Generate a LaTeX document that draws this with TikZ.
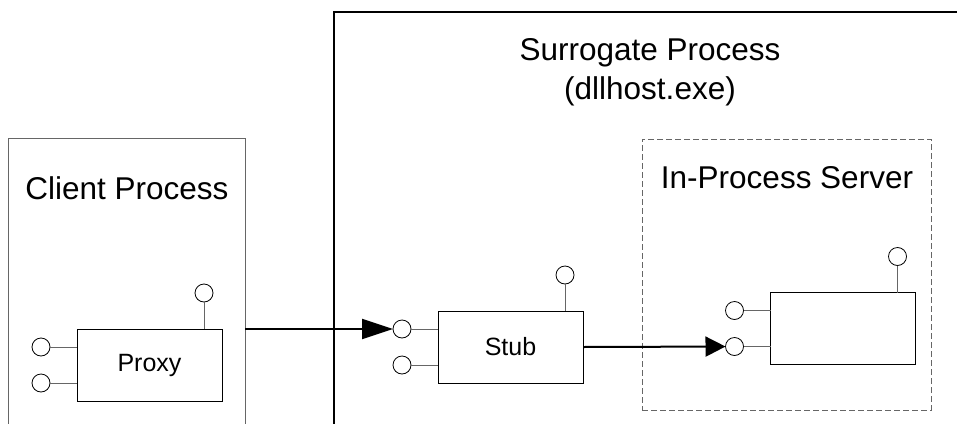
\documentclass[tikz,border=0pt]{standalone}
\usepackage{fontspec}
\setmainfont{Liberation Sans}
\usetikzlibrary{calc,positioning,arrows.meta}
\tikzset{
    frame/.style={draw,inner sep=0pt,outer sep=0pt},
    component/.style={
        draw,line width=.9pt,fill=white,
        inner sep=0pt,outer sep=0pt,
        minimum width=145pt,minimum height=72pt,
        font=\fontsize{25}{30}\selectfont
    },
    port/.style={draw,circle,line width=.8pt,inner sep=0pt,outer sep=0pt,minimum size=18pt},
    stem/.style={draw=black!60,line width=1pt},
    title/.style={anchor=base,font=\fontsize{31.5}{38}\selectfont},
    call/.style={line width=2pt,-{Triangle[length=#1,width=20pt]}}
}
\begin{document}
\begin{tikzpicture}[x=1pt,y=-1pt]
\clip (0,0) rectangle (957,423);
% process frames
\node[frame,draw=black!60,line width=1pt,minimum width=237pt,minimum height=310pt,anchor=north west] (client) at (8,138) {};
\node[frame,line width=1.6pt,minimum width=640pt,minimum height=430pt,anchor=north west] (surrogate) at (334,12) {};
\node[frame,draw=black!60,line width=1pt,dash pattern=on 6pt off 3pt,minimum width=289pt,minimum height=271pt,anchor=north west] (server) at (642,139) {};
\node[title] (client-title) at (127,199) {Client Process};
\node[title] (surrogate-title) at (650,60) {Surrogate Process};
\node[title] (surrogate-exe) at (650,99) {(dllhost.exe)};
\node[title] (server-title) at (787,188) {In-Process Server};
% components and their interfaces
\node[component] (proxy) at (149.5,365) {Proxy};
\node[component] (stub) at (510.5,347) {Stub};
\node[component] (dll) at (843,328.5) {};
\foreach \c in {proxy,stub,dll}{
    \node[port] (\c-a) at ($(\c.north west)+(-36,18)$) {};
    \node[port] (\c-b) at ($(\c.south west)+(-36,-18)$) {};
    \node[port] (\c-c) at ($(\c.north east)+(-18,-36)$) {};
    \draw[stem] (\c-a) -- (\c-a -| \c.west);
    \draw[stem] (\c-b) -- (\c-b -| \c.west);
    \draw[stem] (\c-c) -- (\c-c |- \c.north);
}
\draw[call=31pt] (client.east |- stub-a) -- (stub-a);
\draw[call=20pt] (stub.east) -- (dll-b);
\end{tikzpicture}
\end{document}
